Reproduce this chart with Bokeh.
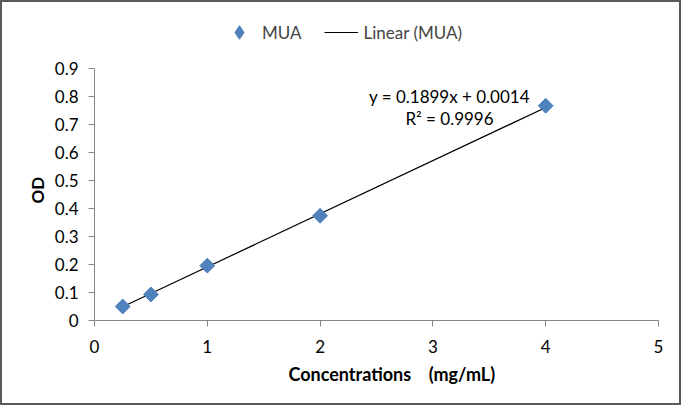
import numpy as np
from bokeh.plotting import figure
from bokeh.models import Range1d, Legend, LegendItem, FixedTicker
from bokeh.core.properties import value
from bokeh.embed import file_html
from bokeh.resources import INLINE

# data
conc = [0.25, 0.5, 1.0, 2.0, 4.0]
od = [0.050, 0.093, 0.196, 0.374, 0.767]
slope = 0.1899
intercept = 0.0014
trend_x = [0.25, 4.0]
trend_y = [slope * x + intercept for x in trend_x]
x_ticks = [0, 1, 2, 3, 4, 5]
y_ticks = [0, 0.1, 0.2, 0.3, 0.4, 0.5, 0.6, 0.7, 0.8, 0.9]
eq_text = "y = 0.1899x + 0.0014"
r2_text = "R² = 0.9996"
NB = "\u00a0"

FONT = "Lato"
FS = "17px"
AXC = "#868686"
BLUE = "#4F81BD"

p = figure(width=681, height=405, output_backend="svg", toolbar_location=None,
           x_range=Range1d(0, 5), y_range=Range1d(0, 1.093),
           min_border_left=92, min_border_right=25, min_border_top=12, min_border_bottom=87)
p.styles = {"border": "2px solid #5a5a5a"}
p.outline_line_color = None
p.grid.visible = False

for ax in (p.xaxis[0], p.yaxis[0]):
    ax.axis_line_color = AXC
    ax.major_tick_line_color = AXC
    ax.major_tick_out = 6
    ax.major_tick_in = 0
    ax.minor_tick_line_color = None
    ax.major_label_text_font = FONT
    ax.major_label_text_font_size = FS
    ax.major_label_text_color = "#000000"
    ax.axis_label_text_font = FONT
    ax.axis_label_text_font_size = FS
    ax.axis_label_text_font_style = "bold"
    ax.axis_label_text_color = "#000000"

p.xaxis.ticker = FixedTicker(ticks=x_ticks)
p.yaxis.ticker = FixedTicker(ticks=y_ticks)
p.yaxis.bounds = (0, 0.9)
p.yaxis.major_label_overrides = {0: "0"}
p.xaxis.axis_label = NB * 7 + "Concentrations" + NB * 4 + "(mg/mL)"
p.xaxis.axis_label_text_font_size = "18px"
p.yaxis.axis_label = "OD" + NB * 11
p.xaxis.major_label_standoff = 13
p.xaxis.axis_label_standoff = 7
p.yaxis.major_label_standoff = 10
p.yaxis.axis_label_standoff = 4

r_line = p.line(trend_x, trend_y, line_color="#000000", line_width=1.2)
# legend symbol (diamond); drawn beneath the rotated squares so it stays hidden
r_key = p.scatter(conc, od, marker="diamond", size=13, fill_color=BLUE, line_color=BLUE)
r_pts = p.scatter(conc, od, marker="square", angle=np.pi / 4, size=10.5,
                  fill_color=BLUE, line_color=BLUE)

p.text(x=[3.147], y=[0.800], text=[eq_text], text_font=value(FONT), text_font_size=FS,
       text_align="center", text_baseline="middle", text_color="#000000")
p.text(x=[3.147], y=[0.722], text=[r2_text], text_font=value(FONT), text_font_size=FS,
       text_align="center", text_baseline="middle", text_color="#000000")

legend = Legend(items=[LegendItem(label="MUA", renderers=[r_key]),
                       LegendItem(label="Linear (MUA)", renderers=[r_line])],
                orientation="horizontal", location=(128, 271),
                label_text_font=FONT, label_text_font_size=FS,
                glyph_width=34, glyph_height=34, label_height=20,
                padding=2, spacing=22, margin=0, border_line_color=None,
                background_fill_alpha=0, label_standoff=6)
p.add_layout(legend, "center")

open("out.html", "w").write(file_html(p, INLINE))
